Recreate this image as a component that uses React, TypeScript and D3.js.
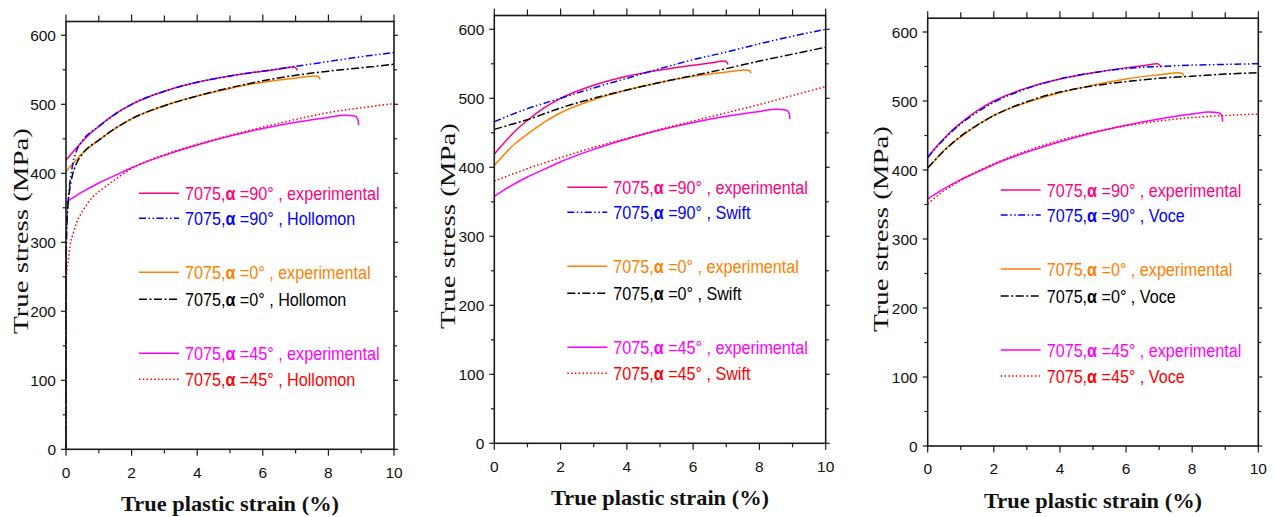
import * as d3 from "d3";

type Pt = [number, number];

// experimental curves (same tests in all three panels), [strain %, stress MPa]
const exp90: Pt[] = [[0, 419], [0.25, 433], [0.5, 446], [0.75, 458], [1, 468], [1.5, 486], [2, 500], [3, 519], [4, 532], [5, 541], [6, 548], [6.5, 551], [6.95, 554], [7.02, 552], [7.05, 549]];
const exp0: Pt[] = [[0, 403], [0.25, 416], [0.5, 429], [0.75, 439], [1, 448], [1.5, 465], [2, 479], [3, 498], [4, 512], [5, 523], [6, 532], [7, 538], [7.6, 541], [7.7, 540], [7.75, 536]];
const exp45: Pt[] = [[0, 358], [0.5, 373], [1, 386], [1.5, 397], [2, 408], [3, 426], [4, 441], [5, 454], [6, 465], [7, 474], [8, 481], [8.5, 484], [8.8, 483], [8.9, 478], [8.92, 470]];

// Hollomon fits
const hollomon90: Pt[] = [[0, 0], [0.003, 250], [0.01, 300], [0.03, 335], [0.06, 355], [0.1, 378], [0.2, 412], [0.3, 430], [0.5, 447], [1, 468], [2, 500], [3, 519], [4, 532], [5, 541], [6, 548], [7, 555], [8, 562], [9, 569], [10, 575]];
const hollomon0: Pt[] = [[0, 0], [0.003, 240], [0.01, 290], [0.03, 330], [0.06, 355], [0.1, 372], [0.2, 398], [0.3, 412], [0.5, 428], [1, 448], [2, 479], [3, 498], [4, 512], [5, 524], [6, 534], [7, 542], [8, 548], [9, 553], [10, 558]];
const hollomon45: Pt[] = [[0, 0], [0.003, 200], [0.02, 255], [0.07, 274], [0.12, 294], [0.22, 313], [0.32, 328], [0.53, 347], [0.78, 364], [1.1, 377], [1.5, 391], [2, 407], [3, 427], [4, 442], [5, 455], [6, 467], [7, 478], [8, 488], [9, 495], [10, 501]];

// Swift fits
const swift90: Pt[] = [[0, 466], [0.5, 476], [1, 485], [2, 500], [3, 515], [4, 529], [5, 543], [6, 556], [7, 567], [8, 579], [9, 590], [10, 600]];
const swift0: Pt[] = [[0, 455], [0.5, 462], [1, 469], [2, 486], [3, 500], [4, 512], [5, 523], [6, 533], [7, 543], [8, 554], [9, 564], [10, 574]];
const swift45: Pt[] = [[0, 380], [1, 398], [2, 414], [3, 429], [4, 442], [5, 455], [6, 467], [7, 479], [8, 491], [9, 504], [10, 517]];

// Voce fits
const voce90: Pt[] = [[0, 418], [0.5, 445], [1, 467], [1.5, 484], [2, 498], [3, 518], [4, 532], [5, 541], [6, 547], [7, 550], [8, 552], [9, 553], [10, 554]];
const voce0: Pt[] = [[0, 403], [0.5, 428], [1, 449], [1.5, 465], [2, 479], [3, 499], [4, 513], [5, 522], [6, 528], [7, 533], [8, 536], [9, 539], [10, 541]];
const voce45: Pt[] = [[0, 351], [0.5, 370], [1, 385], [1.5, 398], [2, 409], [3, 428], [4, 443], [5, 455], [6, 464], [7, 471], [8, 476], [9, 479], [10, 481]];

const angles = ["90", "0", "45"];
const xTicks = [0, 2, 4, 6, 8, 10];
const xMinor = [1, 3, 5, 7, 9];
const yTicks = [0, 100, 200, 300, 400, 500, 600];
const yMinor = [50, 150, 250, 350, 450, 550];

const expColors = ["#ff0080", "#ff8000", "#ff00ff"];
const modelColors = ["#0000ff", "#000000", "#ff0000"];
const modelDash = ["7,2.5,1.5,2.5,1.5,2.5", "8,2.5,2,2.5", "1.5,2.3"];

const panels = [
  { model: "Hollomon", fits: [hollomon90, hollomon0, hollomon45], left: 66, right: 394, bottom: 449.3, ylx: 28, yly: 231 },
  { model: "Swift", fits: [swift90, swift0, swift45], left: 494.3, right: 825.7, bottom: 443.3, ylx: 455, yly: 226 },
  { model: "Voce", fits: [voce90, voce0, voce45], left: 927.7, right: 1258.3, bottom: 446, ylx: 888, yly: 229 },
];

// legend rows, px above the bottom axis
const legendRows = [256, 231, 177, 150, 96, 70];

const tickFont = "'Liberation Sans', Arial, sans-serif";
const serif = "'Liberation Serif', 'Times New Roman', serif";

const Panel = ({ p }) => {
  const top = p.bottom - 620 * 0.69;
  const x = d3.scaleLinear().domain([0, 10]).range([p.left, p.right]);
  const y = d3.scaleLinear().domain([0, 620]).range([p.bottom, top]);
  const line = d3
    .line<Pt>()
    .x((d) => x(d[0]))
    .y((d) => y(d[1]))
    .curve(d3.curveMonotoneX);
  const exps = [exp90, exp0, exp45];

  const legend: { label: string; color: string; dash?: string }[] = [];
  angles.forEach((a, i) => {
    legend.push({ label: `=${a}° , experimental`, color: expColors[i] });
    legend.push({ label: `=${a}° , ${p.model}`, color: modelColors[i], dash: modelDash[i] });
  });

  return (
    <g>
      {/* curves */}
      {exps.map((d, i) => (
        <path key={"e" + i} d={line(d)} fill="none" stroke={expColors[i]} strokeWidth={1.5} />
      ))}
      {p.fits.map((d, i) => (
        <path key={"m" + i} d={line(d)} fill="none" stroke={modelColors[i]} strokeWidth={1.5} strokeDasharray={modelDash[i]} />
      ))}

      {/* frame */}
      <rect x={p.left} y={top} width={p.right - p.left} height={p.bottom - top} fill="none" stroke="#1a1a1a" strokeWidth={1.6} />

      {/* bottom + top ticks */}
      {xTicks.map((t) => (
        <g key={"xt" + t}>
          <line x1={x(t)} x2={x(t)} y1={p.bottom} y2={p.bottom + 6.5} stroke="#1a1a1a" strokeWidth={1.2} />
          <line x1={x(t)} x2={x(t)} y1={top} y2={top - 7} stroke="#1a1a1a" strokeWidth={1.2} />
          <text x={x(t)} y={p.bottom + 28.4} textAnchor="middle" fontSize={15.5} fontFamily={tickFont} fill="#111">
            {t}
          </text>
        </g>
      ))}
      {xMinor.map((t) => (
        <g key={"xm" + t}>
          <line x1={x(t)} x2={x(t)} y1={p.bottom} y2={p.bottom + 4} stroke="#1a1a1a" strokeWidth={1.2} />
          <line x1={x(t)} x2={x(t)} y1={top} y2={top - 6} stroke="#1a1a1a" strokeWidth={1.2} />
        </g>
      ))}

      {/* left + right ticks */}
      {yTicks.map((t) => (
        <g key={"yt" + t}>
          <line x1={p.left} x2={p.left - 5} y1={y(t)} y2={y(t)} stroke="#1a1a1a" strokeWidth={1.2} />
          <line x1={p.right} x2={p.right + 4} y1={y(t)} y2={y(t)} stroke="#1a1a1a" strokeWidth={1.2} />
          <text x={p.left - 10} y={y(t)} dy="0.36em" textAnchor="end" fontSize={15.5} fontFamily={tickFont} fill="#111">
            {t}
          </text>
        </g>
      ))}
      {yMinor.map((t) => (
        <g key={"ym" + t}>
          <line x1={p.left} x2={p.left - 3.3} y1={y(t)} y2={y(t)} stroke="#1a1a1a" strokeWidth={1.2} />
          <line x1={p.right} x2={p.right + 3} y1={y(t)} y2={y(t)} stroke="#1a1a1a" strokeWidth={1.2} />
        </g>
      ))}

      {/* axis titles */}
      <text
        x={(p.left + p.right) / 2}
        y={p.bottom + 61.5}
        textAnchor="middle"
        fontFamily={serif}
        fontWeight="bold"
        fontSize={21}
        textLength={218}
        lengthAdjust="spacingAndGlyphs"
        fill="#111"
      >
        True plastic strain (%)
      </text>
      <text
        transform={`translate(${p.ylx},${p.yly}) rotate(-90)`}
        textAnchor="middle"
        fontFamily={serif}
        fontSize={21}
        textLength={206}
        lengthAdjust="spacingAndGlyphs"
        fill="#111"
      >
        True stress (MPa)
      </text>

      {/* legend */}
      {legend.map((l, i) => {
        const ly = p.bottom - legendRows[i];
        return (
          <g key={"lg" + i}>
            <line x1={p.left + 73} x2={p.left + 113} y1={ly} y2={ly} stroke={l.color} strokeWidth={1.5} strokeDasharray={l.dash} />
            <g transform={`translate(${p.left + 119},${ly + 6.8}) scale(0.85,1)`}>
              <text fontSize={19} fontFamily={tickFont} fill={l.color}>
                7075,<tspan fontWeight="bold">α</tspan> {l.label}
              </text>
            </g>
          </g>
        );
      })}
    </g>
  );
};

export default function App() {
  return (
    <svg
      width={1276}
      height={517}
      style={{ position: "absolute", left: 0, top: 0, background: "#fff" }}
    >
      <rect width={1276} height={517} fill="#fff" />
      {panels.map((p) => (
        <Panel key={p.model} p={p} />
      ))}
    </svg>
  );
}
